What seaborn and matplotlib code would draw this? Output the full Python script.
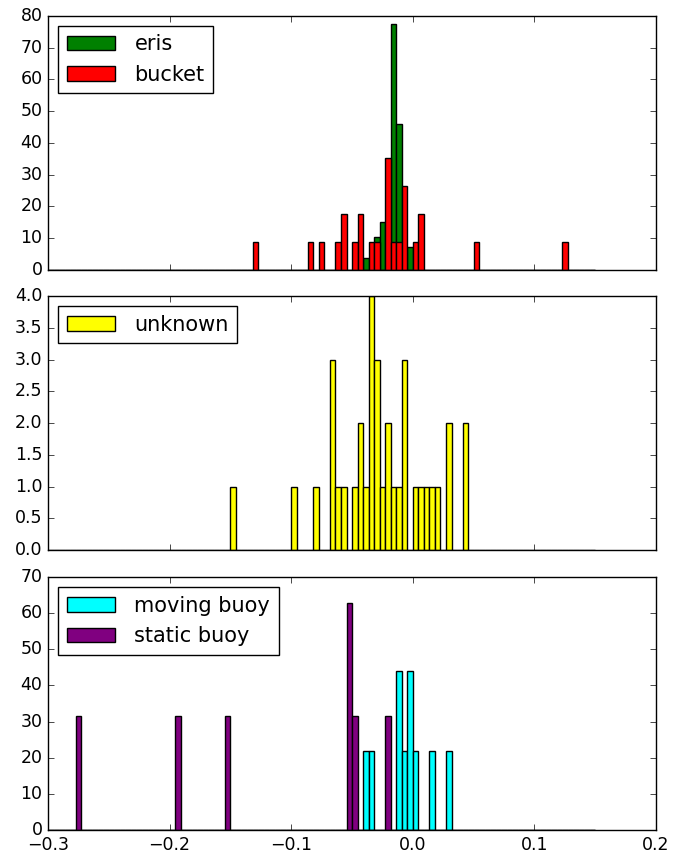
import numpy as np
import pandas as pd
import matplotlib
matplotlib.use("Agg")
import matplotlib.pyplot as plt
from matplotlib.ticker import FuncFormatter
import seaborn as sns

plt.style.use("classic")
plt.rcParams["font.family"] = ["DejaVu Sans"]
plt.rcParams["axes.unicode_minus"] = True

# Bin layout used by all histograms
bin_lo, bin_hi, n_bins = -0.3, 0.15, 99

# Panel 1: eris (density heights)
eris_x = [-0.0386, -0.0295, -0.0250, -0.0159, -0.0114, -0.0023]
eris_h = [3.67, 10.4, 15.0, 77.5, 45.8, 7.35]

# Panel 1: bucket (counts per bin, shown as density)
bucket_x = [-0.1295, -0.0841, -0.0750, -0.0614, -0.0568, -0.0477, -0.0432,
            -0.0341, -0.0295, -0.0205, -0.0159, -0.0114, -0.0068, 0.0023,
            0.0068, 0.0523, 0.1250]
bucket_n = [1, 1, 1, 1, 2, 1, 2, 1, 1, 4, 1, 1, 3, 1, 2, 1, 1]

# Panel 2: unknown (counts)
unknown_x = [-0.1477, -0.0977, -0.0795, -0.0659, -0.0614, -0.0568, -0.0477,
             -0.0432, -0.0386, -0.0341, -0.0295, -0.0250, -0.0205, -0.0159,
             -0.0114, -0.0068, 0.0023, 0.0068, 0.0114, 0.0159, 0.0205,
             0.0295, 0.0432]
unknown_n = [1, 1, 1, 3, 1, 1, 1, 2, 1, 4, 3, 1, 2, 1, 1, 3, 1, 1, 1, 1, 1,
             2, 2]

# Panel 3: moving buoy and static buoy (counts, shown as density)
moving_x = [-0.0386, -0.0341, -0.0114, -0.0068, -0.0023, 0.0023, 0.0159, 0.0295]
moving_n = [1, 1, 2, 1, 2, 1, 1, 1]
static_x = [-0.2750, -0.1932, -0.1523, -0.0523, -0.0477, -0.0205]
static_n = [1, 1, 1, 2, 1, 1]


def frame(xs, ws):
    return pd.DataFrame({"x": xs, "w": ws})


def fmt(decimals):
    return FuncFormatter(lambda v, p: f"{v:.{decimals}f}".replace("-", "\u2212"))


fig = plt.figure(figsize=(6.75, 8.55), dpi=100)
L, W = 0.0711, 0.9009
ax1 = fig.add_axes([L, 0.6842, W, 0.2974])
ax2 = fig.add_axes([L, 0.3567, W, 0.2971])
ax3 = fig.add_axes([L, 0.0292, W, 0.2959])

kw = dict(x="x", weights="w", bins=n_bins, binrange=(bin_lo, bin_hi),
          alpha=1.0, edgecolor="black", linewidth=1.0)

sns.histplot(data=frame(eris_x, eris_h), stat="count", color="green",
             label="eris", ax=ax1, **kw)
sns.histplot(data=frame(bucket_x, bucket_n), stat="density", color="red",
             label="bucket", ax=ax1, **kw)

sns.histplot(data=frame(unknown_x, unknown_n), stat="count", color="yellow",
             label="unknown", ax=ax2, **kw)

sns.histplot(data=frame(moving_x, moving_n), stat="density", color="cyan",
             label="moving buoy", ax=ax3, **kw)
sns.histplot(data=frame(static_x, static_n), stat="density", color="purple",
             label="static buoy", ax=ax3, **kw)

ylims = [(0, 80), (0, 4.0), (0, 70)]
yticks = [np.arange(0, 81, 10), np.arange(0, 4.01, 0.5), np.arange(0, 71, 10)]
ydec = [0, 1, 0]
for ax, yl, yt, d in zip([ax1, ax2, ax3], ylims, yticks, ydec):
    ax.set_xlim(-0.3, 0.2)
    ax.set_ylim(*yl)
    ax.set_yticks(yt)
    ax.set_xticks([-0.3, -0.2, -0.1, 0.0, 0.1, 0.2])
    ax.set_xlabel("")
    ax.set_ylabel("")
    ax.yaxis.set_major_formatter(fmt(d))
    ax.tick_params(labelsize=12.5)
    ax.legend(loc="upper left", fontsize=15, handlelength=2.3,
              handletextpad=0.95)
ax3.xaxis.set_major_formatter(fmt(1))
ax1.set_xticklabels([])
ax2.set_xticklabels([])

fig.savefig("out.png", dpi=100)
